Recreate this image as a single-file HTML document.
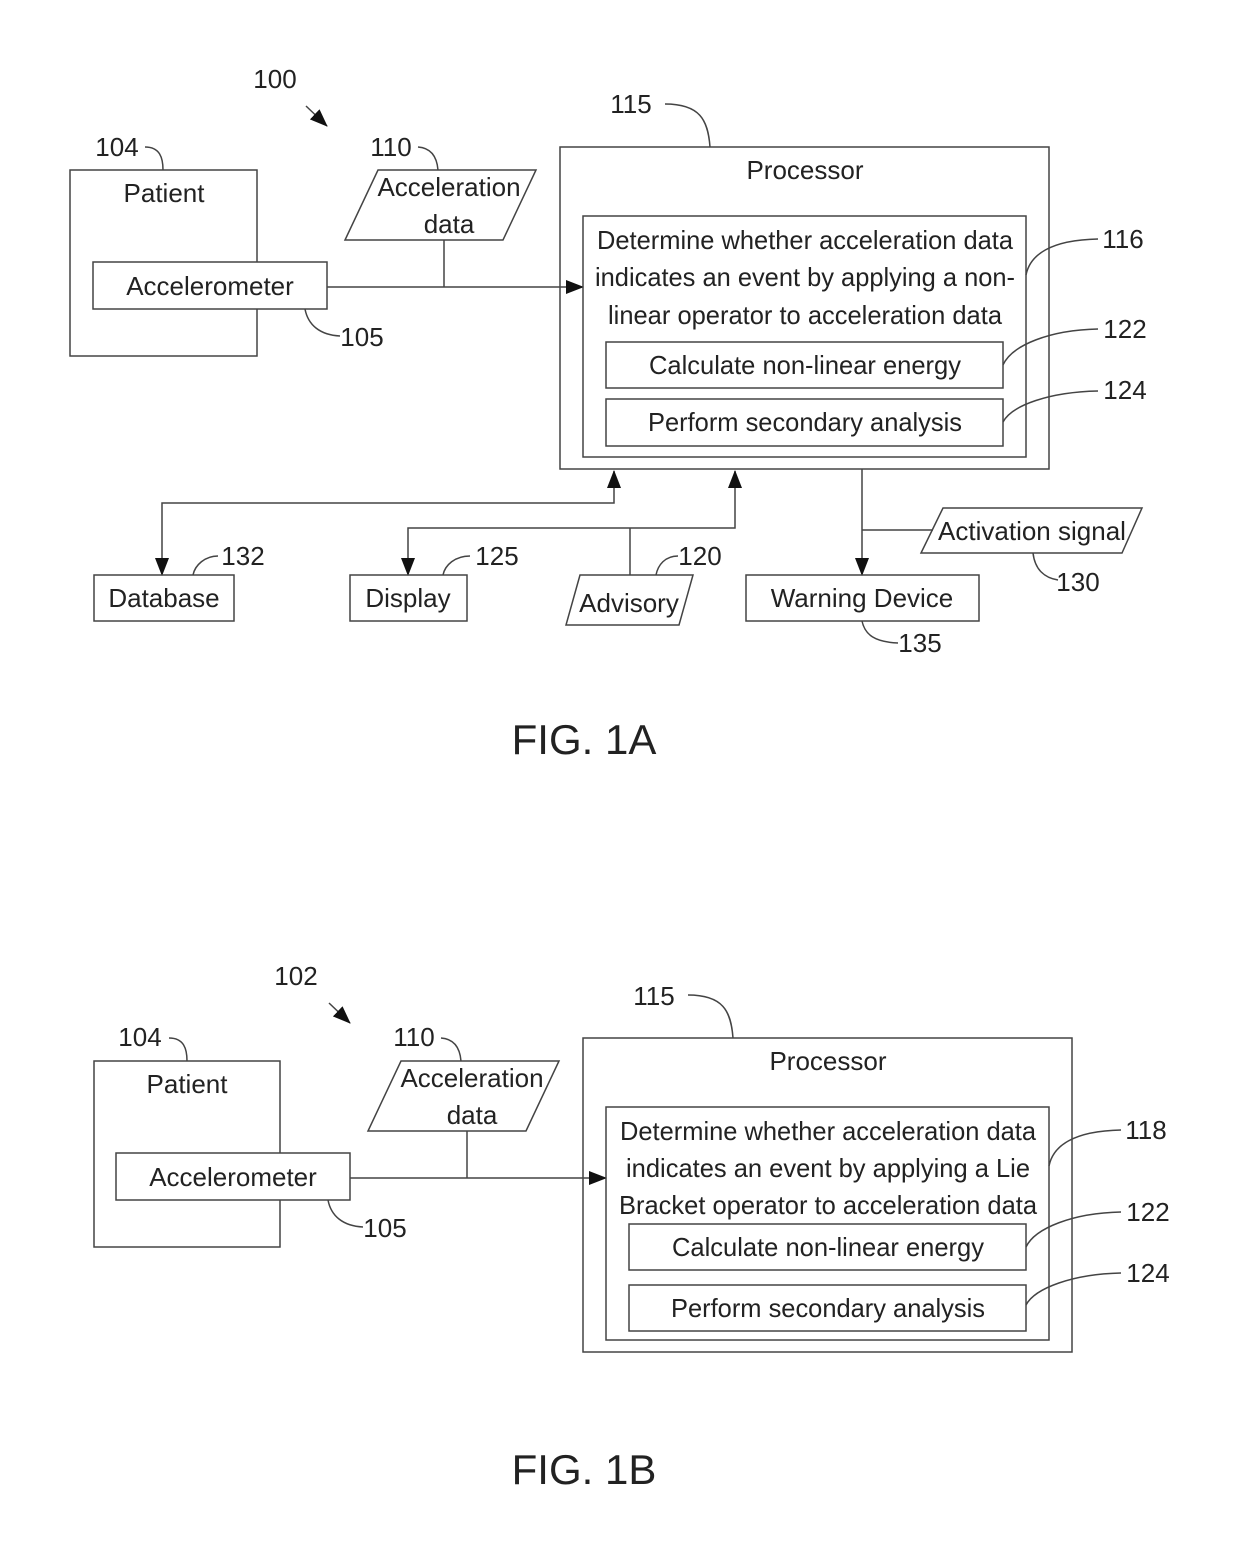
<!DOCTYPE html>
<html><head><meta charset="utf-8"><style>
html,body{margin:0;padding:0;background:#fff;}
svg{display:block;}
text{font-family:"Liberation Sans",Arial,sans-serif;fill:#222;font-size:26px;}
.c{text-anchor:middle;}
</style></head><body>
<svg width="1240" height="1550" viewBox="0 0 1240 1550" xmlns="http://www.w3.org/2000/svg">
<defs>
<marker id="b" markerWidth="18" markerHeight="18" refX="17" refY="9" orient="auto-start-reverse" markerUnits="userSpaceOnUse" viewBox="0 0 18 18">
<path d="M0,2 L18,9 L0,16 z" fill="#111"/></marker>
</defs>
<g fill="none" stroke="#444" stroke-width="1.5">
<!-- FIG 1A -->
<line x1="306" y1="106" x2="327" y2="126" marker-end="url(#b)"/>
<path d="M145,147 C160,147 163,158 163,170"/>
<rect x="70" y="170" width="187" height="186" fill="#fff"/>
<rect x="93" y="262" width="234" height="47" fill="#fff"/>
<path d="M305,309 C308,325 320,335 340,336"/>
<path d="M418,147 C432,148 437,158 438,170"/>
<polygon points="378,170 536,170 503,240 345,240" fill="#fff"/>
<line x1="444" y1="240" x2="444" y2="287"/>
<line x1="327" y1="287" x2="583" y2="287" marker-end="url(#b)"/>
<path d="M665,104 C700,104 708,120 710,147"/>
<rect x="560" y="147" width="489" height="322"/>
<rect x="583" y="216" width="443" height="241"/>
<rect x="606" y="342" width="397" height="46"/>
<rect x="606" y="399" width="397" height="47"/>
<path d="M1098,239 C1050,240 1030,255 1026,275"/>
<path d="M1098,329 C1050,330 1012,345 1003,365"/>
<path d="M1098,391 C1050,392 1012,405 1003,422"/>
<polyline points="162,575 162,503 614,503 614,471" marker-start="url(#b)" marker-end="url(#b)"/>
<polyline points="408,575 408,528 735,528 735,471" marker-start="url(#b)" marker-end="url(#b)"/>
<line x1="630" y1="528" x2="630" y2="575"/>
<rect x="94" y="575" width="140" height="46"/>
<rect x="350" y="575" width="117" height="46"/>
<polygon points="580,575 693,575 679,625 566,625"/>
<path d="M218,556 C205,556 195,565 193,575"/>
<path d="M470,556 C455,556 445,565 443,575"/>
<path d="M678,556 C665,556 658,565 656,575"/>
<line x1="862" y1="469" x2="862" y2="575" marker-end="url(#b)"/>
<line x1="862" y1="530" x2="933" y2="530"/>
<polygon points="943,508 1142,508 1122,553 921,553"/>
<path d="M1033,553 C1035,570 1045,578 1058,580"/>
<rect x="746" y="575" width="233" height="46"/>
<path d="M862,621 C865,635 875,642 898,643"/>
<!-- FIG 1B -->
<line x1="329" y1="1003" x2="350" y2="1023" marker-end="url(#b)"/>
<path d="M169,1038 C184,1038 187,1049 187,1061"/>
<rect x="94" y="1061" width="186" height="186"/>
<rect x="116" y="1153" width="234" height="47" fill="#fff"/>
<path d="M328,1200 C331,1216 343,1226 363,1227"/>
<path d="M441,1038 C455,1039 460,1049 461,1061"/>
<polygon points="401,1061 559,1061 526,1131 368,1131" fill="#fff"/>
<line x1="467" y1="1131" x2="467" y2="1178"/>
<line x1="350" y1="1178" x2="606" y2="1178" marker-end="url(#b)"/>
<path d="M688,995 C723,995 731,1011 733,1038"/>
<rect x="583" y="1038" width="489" height="314"/>
<rect x="606" y="1107" width="443" height="233"/>
<rect x="629" y="1224" width="397" height="46"/>
<rect x="629" y="1285" width="397" height="46"/>
<path d="M1121,1130 C1073,1131 1053,1146 1049,1166"/>
<path d="M1121,1212 C1073,1213 1035,1228 1026,1247"/>
<path d="M1121,1273 C1073,1274 1035,1288 1026,1305"/>
</g>
<!-- text 1A -->
<text x="275" y="88" class="c">100</text>
<text x="117" y="156" class="c">104</text>
<text x="164" y="202" class="c">Patient</text>
<text x="210" y="295" class="c">Accelerometer</text>
<text x="362" y="346" class="c">105</text>
<text x="391" y="156" class="c">110</text>
<text x="449" y="196" class="c">Acceleration</text>
<text x="449" y="233" class="c">data</text>
<text x="631" y="113" class="c">115</text>
<text x="805" y="179" class="c">Processor</text>
<text x="805" y="249" class="c" textLength="416" lengthAdjust="spacingAndGlyphs">Determine whether acceleration data</text>
<text x="805" y="286" class="c" textLength="420" lengthAdjust="spacingAndGlyphs">indicates an event by applying a non-</text>
<text x="805" y="324" class="c" textLength="394" lengthAdjust="spacingAndGlyphs">linear operator to acceleration data</text>
<text x="805" y="374" class="c" textLength="312" lengthAdjust="spacingAndGlyphs">Calculate non-linear energy</text>
<text x="805" y="431" class="c" textLength="314" lengthAdjust="spacingAndGlyphs">Perform secondary analysis</text>
<text x="1123" y="248" class="c">116</text>
<text x="1125" y="338" class="c">122</text>
<text x="1125" y="399" class="c">124</text>
<text x="164" y="607" class="c">Database</text>
<text x="243" y="565" class="c">132</text>
<text x="408" y="607" class="c">Display</text>
<text x="497" y="565" class="c">125</text>
<text x="629" y="612" class="c">Advisory</text>
<text x="700" y="565" class="c">120</text>
<text x="1032" y="540" class="c">Activation signal</text>
<text x="1078" y="591" class="c">130</text>
<text x="862" y="607" class="c">Warning Device</text>
<text x="920" y="652" class="c">135</text>
<text x="584" y="754" class="c" style="font-size:42px">FIG. 1A</text>
<!-- text 1B -->
<text x="296" y="985" class="c">102</text>
<text x="140" y="1046" class="c">104</text>
<text x="187" y="1093" class="c">Patient</text>
<text x="233" y="1186" class="c">Accelerometer</text>
<text x="385" y="1237" class="c">105</text>
<text x="414" y="1046" class="c">110</text>
<text x="472" y="1087" class="c">Acceleration</text>
<text x="472" y="1124" class="c">data</text>
<text x="654" y="1005" class="c">115</text>
<text x="828" y="1070" class="c">Processor</text>
<text x="828" y="1140" class="c" textLength="416" lengthAdjust="spacingAndGlyphs">Determine whether acceleration data</text>
<text x="828" y="1177" class="c" textLength="404" lengthAdjust="spacingAndGlyphs">indicates an event by applying a Lie</text>
<text x="828" y="1214" class="c" textLength="418" lengthAdjust="spacingAndGlyphs">Bracket operator to acceleration data</text>
<text x="828" y="1256" class="c" textLength="312" lengthAdjust="spacingAndGlyphs">Calculate non-linear energy</text>
<text x="828" y="1317" class="c" textLength="314" lengthAdjust="spacingAndGlyphs">Perform secondary analysis</text>
<text x="1146" y="1139" class="c">118</text>
<text x="1148" y="1221" class="c">122</text>
<text x="1148" y="1282" class="c">124</text>
<text x="584" y="1484" class="c" style="font-size:42px">FIG. 1B</text>
</svg>
</body></html>
